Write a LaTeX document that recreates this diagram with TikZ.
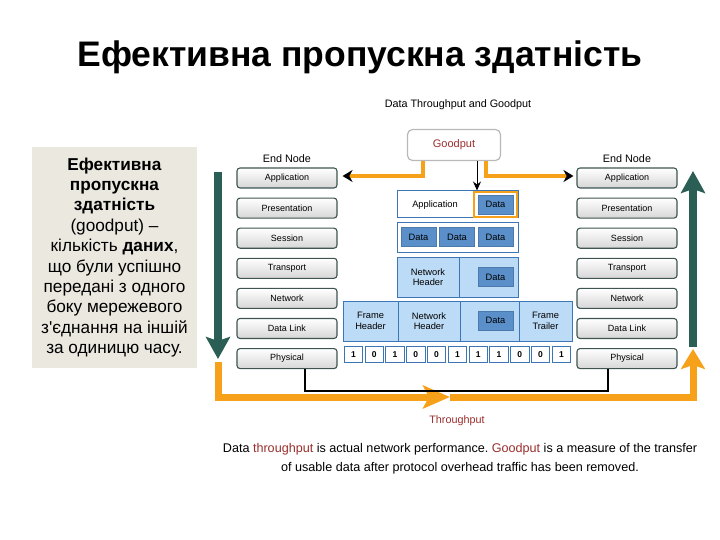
\documentclass[tikz,border=0pt]{standalone}
\usepackage{fontspec}
\setmainfont{Liberation Sans}
\usetikzlibrary{positioning,arrows.meta}
\frenchspacing

\definecolor{arrowgreen}{HTML}{2B5E55}
\definecolor{thruorange}{HTML}{F7A11B}
\definecolor{pduline}{HTML}{3C76B4}
\definecolor{pdufill}{HTML}{BCDBF6}
\definecolor{datafill}{HTML}{5B8FCA}
\definecolor{redtxt}{HTML}{9B2D2D}
\definecolor{descfill}{HTML}{EBE8E0}
\definecolor{layerline}{HTML}{3E5551}

\begin{document}
\begin{tikzpicture}[x=1pt, y=-1pt,
  every node/.style={font=\fontsize{9.3}{10.5}\selectfont},
  layer/.style={draw=layerline, line width=1.1pt, rounded corners=3pt, top color=white, bottom color=black!16, minimum width=100pt, minimum height=20pt, inner sep=0pt, font=\fontsize{9}{10}\selectfont},
  pdu/.style={draw=pduline, line width=1pt, fill=pdufill, inner sep=0pt, align=center},
  databox/.style={fill=datafill, draw=datafill!85!black, line width=0.4pt, minimum width=35pt, minimum height=19pt, inner sep=0pt},
  bit/.style={draw=pduline, fill=white, line width=0.8pt, minimum width=18.5pt, minimum height=16pt, inner sep=0pt, font=\fontsize{8.5}{9}\bfseries},
  fat/.style={line width=8pt, arrowgreen},
  thru/.style={line width=7pt, thruorange},
  gline/.style={line width=3.5pt, thruorange, -{Stealth[black, length=10pt, width=12pt]}},
  wire/.style={line width=1.5pt, black}]

\useasboundingbox (0,0) rectangle (720,540);

% title and description
\node[font=\fontsize{35.5}{40}\selectfont\bfseries] (title) at (360,57) {Ефективна пропускна здатність};
\node[fill=descfill, minimum width=165pt, minimum height=221pt, align=center, inner sep=0pt,
  font=\fontsize{17.2}{20.4}\selectfont] (desc) at (114.5,257.5)
  {\textbf{Ефективна}\\\textbf{пропускна}\\\textbf{здатність}\\(goodput) –\\кількість \textbf{даних},\\що були успішно\\передані з одного\\боку мережевого\\з\textquotesingle єднання на іншій\\за одиницю часу.};

% left end node
\node[layer] (lapp) at (287,178) {Application};
\node[layer, below=9pt of lapp] (lpre) {Presentation};
\node[layer, below=9pt of lpre] (lses) {Session};
\node[layer, below=9pt of lses] (ltra) {Transport};
\node[layer, below=9pt of ltra] (lnet) {Network};
\node[layer, below=9pt of lnet] (llnk) {Data Link};
\node[layer, below=9pt of llnk] (lphy) {Physical};
\node[above=1pt of lapp, font=\fontsize{10.8}{12}\selectfont] (lend) {End Node};

% right end node
\node[layer] (rapp) at (627,178) {Application};
\node[layer, below=9pt of rapp] (rpre) {Presentation};
\node[layer, below=9pt of rpre] (rses) {Session};
\node[layer, below=9pt of rses] (rtra) {Transport};
\node[layer, below=9pt of rtra] (rnet) {Network};
\node[layer, below=9pt of rnet] (rlnk) {Data Link};
\node[layer, below=9pt of rlnk] (rphy) {Physical};
\node[above=1pt of rapp, font=\fontsize{10.8}{12}\selectfont] (rend) {End Node};

% goodput
\node[font=\fontsize{10.8}{12}\selectfont] (diag) at (458,105) {Data Throughput and Goodput};
\node[draw=black!28, line width=1.2pt, rounded corners=5pt, minimum width=93pt, minimum height=31pt, text=redtxt, font=\fontsize{11}{12}\selectfont] (good) at (454,145) {Goodput};

% encapsulation
\node[pdu, fill=white, minimum width=121pt, minimum height=27pt] (approw) at (457.5,204.5) {};
\node (applbl) at (435,205) {Application};
\node[draw=thruorange, line width=2.2pt, minimum width=43pt, minimum height=25pt, inner sep=0pt] (appcell) at (495.5,204.5) {};
\node[databox] (appdata) at (495.5,204.5) {Data};

\node[pdu, fill=white, minimum width=121pt, minimum height=29pt] (segrow) at (457.5,237.5) {};
\node[databox] (seg1) at (418.5,237) {Data};
\node[databox] (seg2) at (457,237) {Data};
\node[databox] (seg3) at (495.5,237) {Data};

\node[pdu, minimum width=62pt, minimum height=40pt] (pkthdr) at (428,277) {Network\\Header};
\node[pdu, minimum width=59pt, minimum height=40pt] (pktdat) at (488.5,277) {};
\node[databox] (pktdata) at (495.5,277) {Data};

\node[pdu, minimum width=55pt, minimum height=40pt] (frhdr) at (370.5,321) {Frame\\Header};
\node[pdu, minimum width=62pt, minimum height=40pt] (frnet) at (429,321) {Network\\Header};
\node[pdu, minimum width=59pt, minimum height=40pt] (frdat) at (489.5,321) {};
\node[pdu, minimum width=53pt, minimum height=40pt] (frtrl) at (545.5,321) {Frame\\Trailer};
\node[databox] (frdata) at (495.5,320.5) {Data};

\foreach \b [count=\i from 0] in {1,0,1,0,0,1,1,1,0,0,1}
  \node[bit] (bit\i) at ({353.4+20.8*\i},354.5) {\b};

% goodput lines
\draw[gline] ([xshift=-31pt]good.south) |- ([xshift=5pt,yshift=2pt]lapp.east);
\draw[gline] ([xshift=32pt]good.south) |- ([xshift=-3pt,yshift=2pt]rapp.west);
\draw[line width=1pt, -{Stealth[length=9pt, width=8pt]}] ([xshift=23pt]good.south) -- ([xshift=23pt]good.south |- approw.north);

% throughput
\coordinate (gl1) at (218,172);
\coordinate (gl2) at (218,359);
\coordinate (o1) at (218,362);
\coordinate (omid) at (450,397);
\coordinate (o2) at (693,349);
\coordinate (gr1) at (693,347);
\coordinate (gr2) at (693,171);
\draw[fat, -{Stealth[width=24pt, length=22pt, inset=4pt]}] (gl1) -- (gl2);
\draw[thru, -{Stealth[width=23pt, length=27pt, inset=6pt]}] (o1) |- (omid);
\draw[thru, -{Stealth[width=24pt, length=20pt, inset=4pt]}] (omid) -| (o2);
\draw[fat, -{Stealth[width=24pt, length=22pt, inset=4pt]}] (gr1) -- (gr2);
\draw[wire] ([xshift=18pt]lphy.south) -- ++(0,22) -| ([xshift=-19pt]rphy.south);
\node[text=redtxt, font=\fontsize{10.8}{12}\selectfont] (thrulbl) at (457,421) {Throughput};

\node[align=center, font=\fontsize{12.6}{19}\selectfont] (note) at (460,459)
  {Data \textcolor{redtxt}{throughput} is actual network performance. \textcolor{redtxt}{Goodput} is a measure of the transfer\\of usable data after protocol overhead traffic has been removed.};
\end{tikzpicture}
\end{document}
